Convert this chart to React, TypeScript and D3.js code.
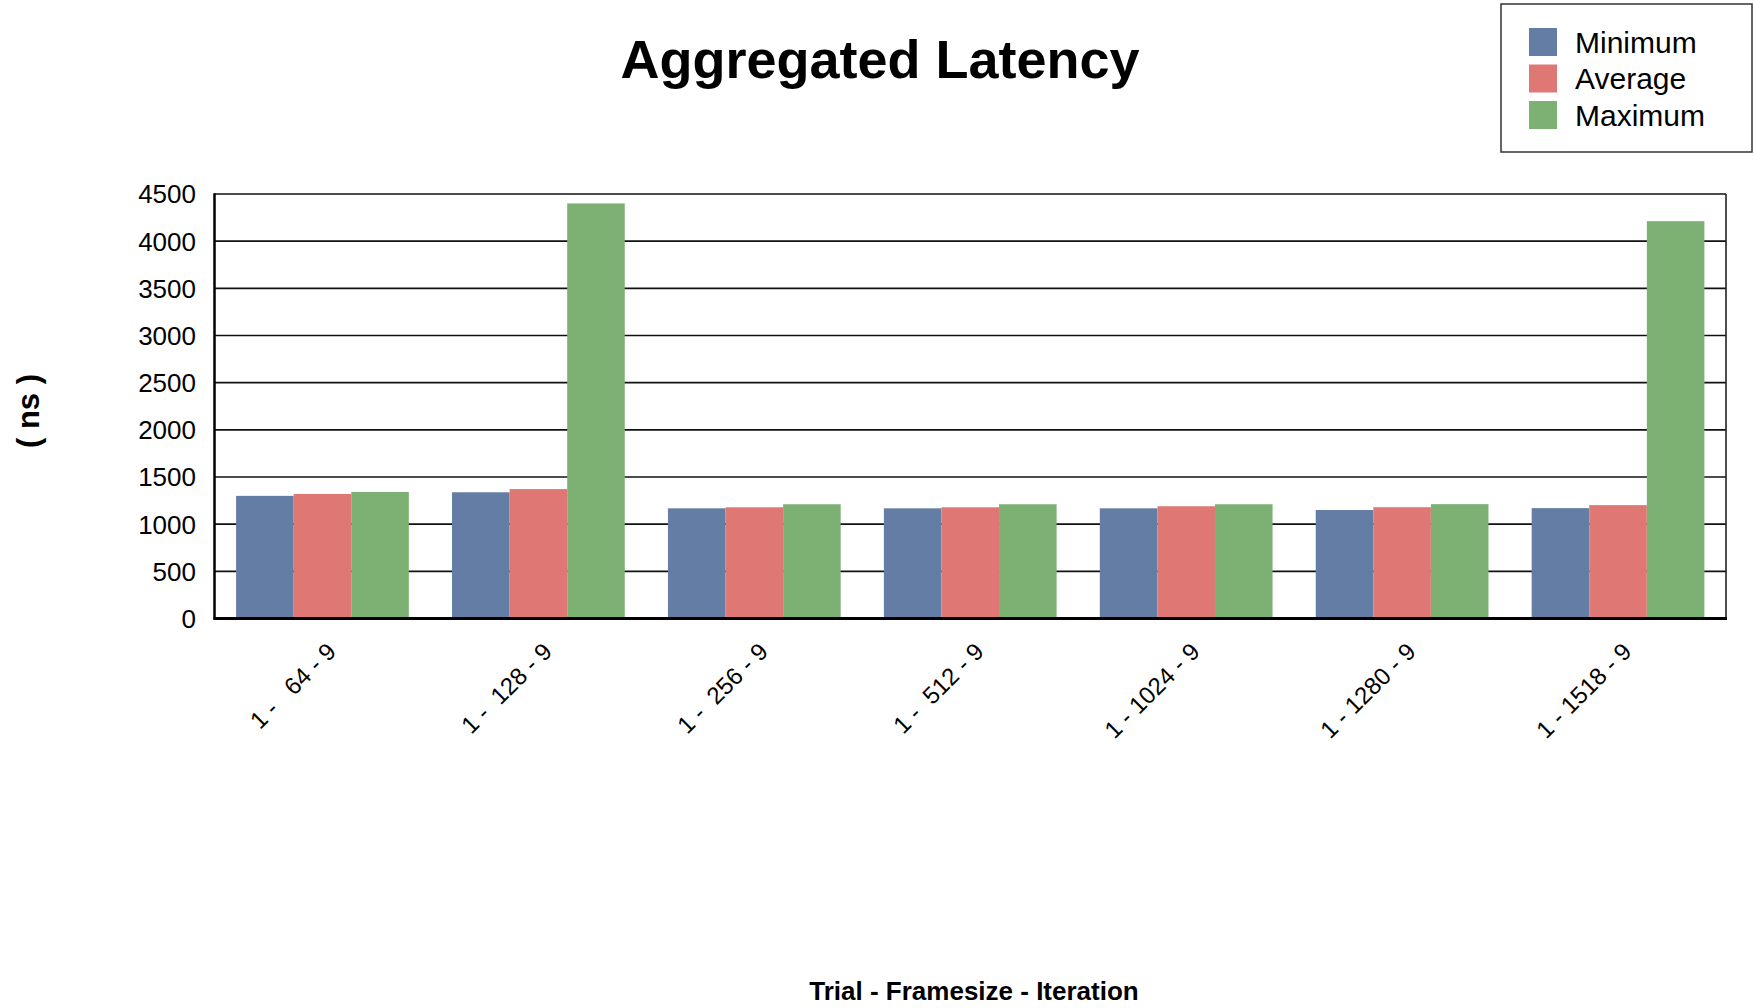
import React from "react";
import * as d3 from "d3";

const framesizes = [64, 128, 256, 512, 1024, 1280, 1518];
const seriesNames = ["Minimum", "Average", "Maximum"];
const minimum = [1300, 1338, 1168, 1168, 1168, 1150, 1170];
const average = [1320, 1372, 1179, 1179, 1190, 1180, 1202];
const maximum = [1341, 4400, 1211, 1211, 1211, 1212, 4212];
const yTicks = [0, 500, 1000, 1500, 2000, 2500, 3000, 3500, 4000, 4500];
const colors = ["#647da5", "#df7874", "#7cb173"];

const W = 1754;
const H = 1008;
const plot = { left: 214.5, right: 1726, top: 194, bottom: 618.5 };
const FONT = "'Liberation Sans', Arial, Helvetica, sans-serif";

function label(fs: number) {
  const s = String(fs);
  return "1 - " + " ".repeat(4 - s.length) + s + " - 9";
}

export default function App() {
  const series = [minimum, average, maximum];
  const x = d3
    .scaleBand<number>()
    .domain(framesizes)
    .range([plot.left, plot.right])
    .paddingInner(0.2)
    .paddingOuter(0.1);
  const xi = d3
    .scaleBand<number>()
    .domain([0, 1, 2])
    .range([0, x.bandwidth()]);
  const y = d3.scaleLinear().domain([0, 4500]).range([plot.bottom, plot.top]);

  return (
    <svg
      width={W}
      height={H}
      style={{ position: "absolute", left: 0, top: 0, background: "#fff" }}
      fontFamily={FONT}
    >
      <rect x={0} y={0} width={W} height={H} fill="#fff" />
      <text
        x={880}
        y={78}
        textAnchor="middle"
        fontSize={54}
        fontWeight="bold"
        fill="#000"
      >
        Aggregated Latency
      </text>

      {/* gridlines */}
      {yTicks.map((t) => (
        <line
          key={"g" + t}
          x1={plot.left}
          x2={plot.right}
          y1={y(t)}
          y2={y(t)}
          stroke="#111"
          strokeWidth={1.6}
        />
      ))}
      {/* y tick labels */}
      {yTicks.map((t) => (
        <text
          key={"t" + t}
          x={196}
          y={y(t)}
          dy="0.36em"
          textAnchor="end"
          fontSize={26}
          fill="#000"
        >
          {t}
        </text>
      ))}

      {/* bars */}
      {framesizes.map((fs, i) => (
        <g key={fs} transform={`translate(${x(fs)},0)`}>
          {series.map((vals, s) => (
            <rect
              key={s}
              x={xi(s)}
              y={y(vals[i])}
              width={xi.bandwidth()}
              height={plot.bottom - y(vals[i])}
              fill={colors[s]}
            />
          ))}
        </g>
      ))}

      {/* frame */}
      <line x1={plot.right} x2={plot.right} y1={plot.top} y2={plot.bottom} stroke="#222" strokeWidth={1.6} />
      <line x1={plot.left} x2={plot.left} y1={plot.top - 0.8} y2={plot.bottom + 1} stroke="#000" strokeWidth={2.5} />
      <line x1={plot.left - 1} x2={plot.right + 1} y1={plot.bottom} y2={plot.bottom} stroke="#000" strokeWidth={3} />

      {/* x tick labels */}
      {framesizes.map((fs) => {
        const cx = (x(fs) as number) + x.bandwidth() / 2;
        return (
          <text
            key={"x" + fs}
            transform={`translate(${cx + 15},${653}) rotate(-45)`}
            textAnchor="end"
            fontSize={24}
            fill="#000"
            style={{ whiteSpace: "pre" }}
          >
            {label(fs)}
          </text>
        );
      })}

      {/* axis titles */}
      <text
        transform={`translate(39,411) rotate(-90)`}
        textAnchor="middle"
        fontSize={31}
        fontWeight="bold"
        fill="#000"
        style={{ whiteSpace: "pre" }}
      >
        ( ns )
      </text>
      <text x={974} y={1000} textAnchor="middle" fontSize={26} fontWeight="bold" fill="#000">
        Trial - Framesize - Iteration
      </text>

      {/* legend */}
      <rect x={1501} y={4} width={251} height={148} fill="#fff" stroke="#333" strokeWidth={1.5} />
      {seriesNames.map((n, i) => (
        <g key={n} transform={`translate(1529,${28 + i * 36.5})`}>
          <rect x={0} y={0} width={28} height={28} fill={colors[i]} />
          <text x={46} y={24.5} fontSize={30} fill="#000">
            {n}
          </text>
        </g>
      ))}
    </svg>
  );
}
